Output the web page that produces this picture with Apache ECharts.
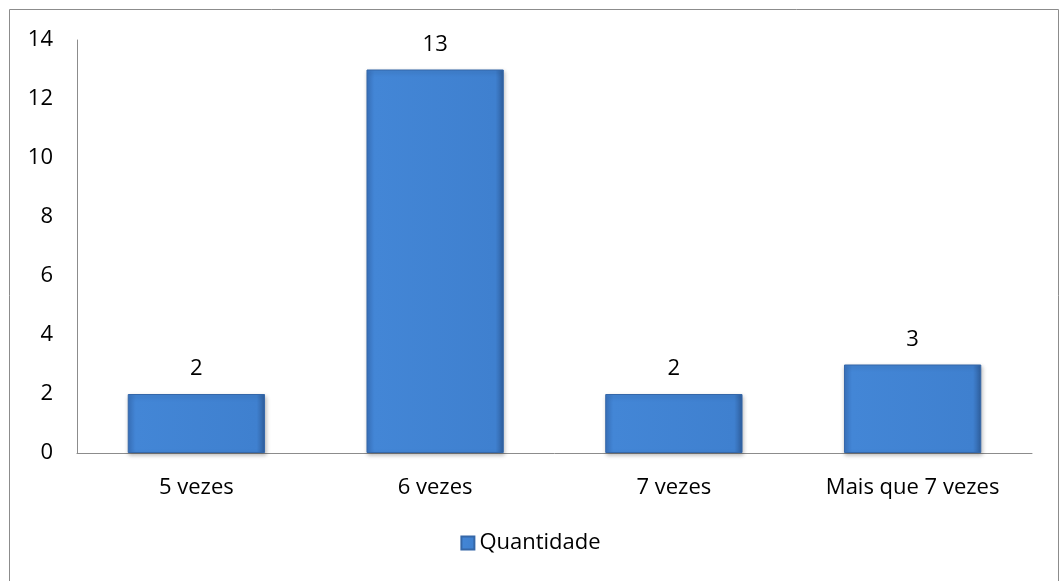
<!DOCTYPE html>
<html>
<head>
<meta charset="utf-8">
<script src="https://cdn.jsdelivr.net/npm/echarts@6/dist/echarts.min.js"></script>
<style>
html,body{margin:0;padding:0;background:#fff;}
#chart{width:1061px;height:581px;}
</style>
</head>
<body>
<div id="chart"></div>
<script>
// Frequência de respostas por categoria
const categories = ['5 vezes', '6 vezes', '7 vezes', 'Mais que 7 vezes'];
const quantidade = [2, 13, 2, 3];
const seriesName = 'Quantidade';
const yTicks = [0, 2, 4, 6, 8, 10, 12, 14];

const FONT = '"Open Sans", "Noto Sans", sans-serif';

const barFill = new echarts.graphic.LinearGradient(0, 0, 1, 0, [
  { offset: 0, color: '#3a74c0' },
  { offset: 0.06, color: '#4386d6' },
  { offset: 0.94, color: '#3f80cf' },
  { offset: 1, color: '#2f5f9e' }
]);

const chart = echarts.init(document.getElementById('chart'), null, { renderer: 'canvas' });
chart.setOption({
  backgroundColor: '#ffffff',
  animation: false,
  graphic: [{
    type: 'rect',
    shape: { x: 9.5, y: 9.5, width: 1049, height: 600 },
    style: { fill: 'none', stroke: '#8c8c8c', lineWidth: 1 },
    silent: true
  }],
  grid: { left: 77, right: 29, top: 40, bottom: 128, containLabel: false },
  legend: {
    bottom: 22,
    left: 'center',
    itemWidth: 13,
    itemHeight: 13,
    itemGap: 4,
    icon: 'rect',
    textStyle: { fontFamily: FONT, fontSize: 22, color: '#000' },
    data: [seriesName]
  },
  xAxis: {
    type: 'category',
    data: categories,
    axisLine: { lineStyle: { color: '#8c8c8c', width: 1 } },
    axisTick: { show: false },
    axisLabel: { fontFamily: FONT, fontSize: 22, color: '#000', margin: 24 }
  },
  yAxis: {
    type: 'value',
    min: yTicks[0],
    max: yTicks[yTicks.length - 1],
    interval: 2,
    splitLine: { show: false },
    axisLine: { show: true, lineStyle: { color: '#8c8c8c', width: 1 } },
    axisTick: { show: false },
    axisLabel: { fontFamily: FONT, fontSize: 22, color: '#000', margin: 24 }
  },
  series: [{
    name: seriesName,
    type: 'bar',
    data: quantidade,
    barWidth: '57.5%',
    itemStyle: {
      color: barFill,
      borderColor: '#3567a8',
      borderWidth: 1,
      shadowColor: 'rgba(0,0,0,0.25)',
      shadowBlur: 4,
      shadowOffsetX: 1,
      shadowOffsetY: 2
    },
    label: {
      show: true,
      position: 'top',
      distance: 14,
      fontFamily: FONT,
      fontSize: 22,
      color: '#000'
    }
  }]
});
</script>
</body>
</html>
